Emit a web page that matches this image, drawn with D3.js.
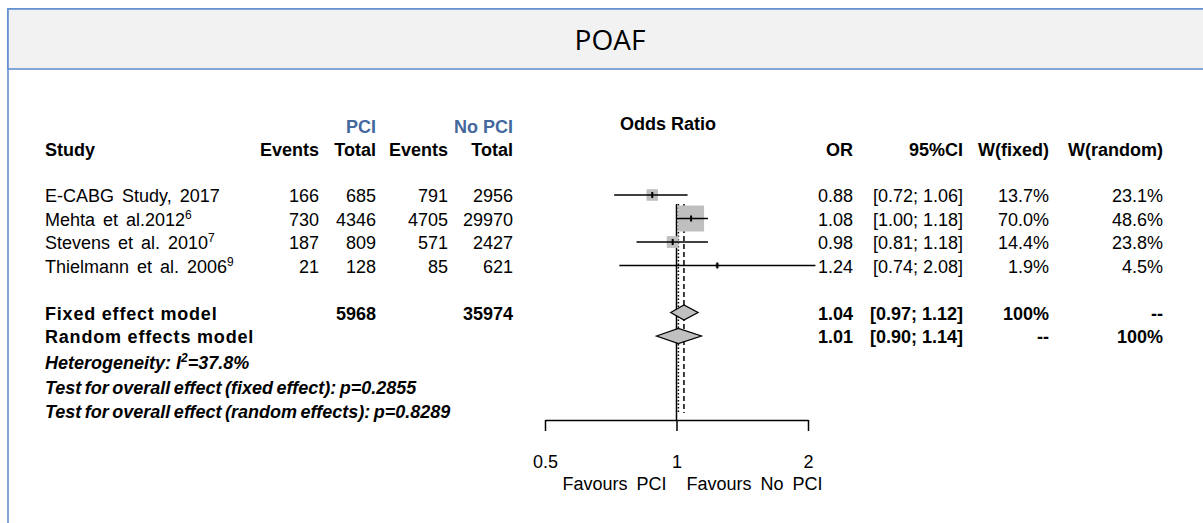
<!DOCTYPE html>
<html>
<head>
<meta charset="utf-8">
<script src="https://cdn.jsdelivr.net/npm/d3@7"></script>
<style>
    body { margin: 0; background: #fff; }
    svg text { font-family: "Liberation Sans", Arial, sans-serif; font-size: 18px; fill: #000; }
</style>
</head>
<body>
<svg id="chart" width="1203" height="523"></svg>
<script>
// forest plot of POAF, PCI vs No PCI

// study rows
const studies = ['E-CABG Study, 2017', 'Mehta et al.2012', 'Stevens et al. 2010', 'Thielmann et al. 2006'];
const refNums = ['', '6', '7', '9'];
const pciEvents = [166, 730, 187, 21];
const pciTotal = [685, 4346, 809, 128];
const noPciEvents = [791, 4705, 571, 85];
const noPciTotal = [2956, 29970, 2427, 621];
const oddsRatio = [0.88, 1.08, 0.98, 1.24];
const ciLower = [0.72, 1.00, 0.81, 0.74];
const ciUpper = [1.06, 1.18, 1.18, 2.08];
const wFixed = [13.7, 70.0, 14.4, 1.9];
const wRandom = [23.1, 48.6, 23.8, 4.5];

// pooled rows
const models = ['Fixed effect model', 'Random effects model'];
const modelPciTotal = ['5968', ''];
const modelNoPciTotal = ['35974', ''];
const modelOr = [1.04, 1.01];
const modelLower = [0.97, 0.90];
const modelUpper = [1.12, 1.14];
const modelWFixed = ['100%', '--'];
const modelWRandom = ['--', '100%'];

const xTicks = [0.5, 1, 2];
const heterogeneity = '37.8%';
const pFixed = '0.2855';
const pRandom = '0.8289';

const frameColor = '#5b8bd0';
const headBlue = '#44679e';

const svg = d3.select('#chart');
const f2 = d3.format('.2f');
const f1 = d3.format('.1f');

// frame and title band
svg.append('rect')
    .attr('x', 8).attr('y', 9)
    .attr('width', 1230).attr('height', 540)
    .attr('fill', '#fff')
    .attr('stroke', frameColor).attr('stroke-width', 1.5);
svg.append('rect')
    .attr('x', 8).attr('y', 9)
    .attr('width', 1230).attr('height', 60)
    .attr('fill', '#f2f2f2')
    .attr('stroke', frameColor).attr('stroke-width', 1.5);
svg.append('text')
    .attr('x', 610).attr('y', 50)
    .attr('text-anchor', 'middle')
    .style('font-family', '"Open Sans", sans-serif')
    .style('font-size', '28px')
    .text('POAF');

// scales
const x = d3.scaleLog().domain([0.5, 2]).range([545, 808]);
const rowY = d3.scaleLinear().domain([0, 1]).range([195, 218.5]);
const footY = d3.scaleLinear().domain([0, 1]).range([369, 393.5]);
const boxSize = d3.scaleSqrt().domain([0, 70]).range([0, 26]);
const axisY = 420;

// column anchors
const col = { study: 45, pciEv: 319, pciTot: 376, noEv: 448, noTot: 513, or: 853, ci: 963, wf: 1049, wr: 1163 };

const rows = studies.map((name, i) => ({
    name, ref: refNums[i], y: rowY(i),
    cells: [pciEvents[i], pciTotal[i], noPciEvents[i], noPciTotal[i]],
    or: oddsRatio[i], lo: ciLower[i], hi: ciUpper[i], wf: wFixed[i], wr: wRandom[i]
}));

const pooled = models.map((name, i) => ({
    name, y: rowY(5 + i),
    cells: ['', modelPciTotal[i], '', modelNoPciTotal[i]],
    or: modelOr[i], lo: modelLower[i], hi: modelUpper[i], wf: modelWFixed[i], wr: modelWRandom[i]
}));

const txt = (g, xPos, yPos, str, anchor) => g.append('text')
    .attr('x', xPos).attr('y', yPos)
    .attr('text-anchor', anchor || 'end')
    .text(str);

// headers
const head = svg.append('g').style('font-weight', 'bold');
txt(head, col.pciTot, 133, 'PCI').style('fill', headBlue);
txt(head, col.noTot, 133, 'No PCI').style('fill', headBlue);
txt(head, 668, 130, 'Odds Ratio', 'middle');
txt(head, col.study, 156, 'Study', 'start');
txt(head, col.pciEv, 156, 'Events');
txt(head, col.pciTot, 156, 'Total');
txt(head, col.noEv, 156, 'Events');
txt(head, col.noTot, 156, 'Total');
txt(head, col.or, 156, 'OR');
txt(head, col.ci, 156, '95%CI');
txt(head, col.wf, 156, 'W(fixed)');
txt(head, col.wr, 156, 'W(random)');

const cellX = [col.pciEv, col.pciTot, col.noEv, col.noTot];

// study rows text
rows.forEach(d => {
    const g = svg.append('g');
    const name = txt(g, col.study, d.y + 7, d.name, 'start')
        .style('word-spacing', '3px');
    if (d.ref) name.append('tspan')
        .attr('dy', -7).style('font-size', '12px').text(d.ref);
    d.cells.forEach((c, j) => txt(g, cellX[j], d.y + 7, c));
    txt(g, col.or, d.y + 7, f2(d.or));
    txt(g, col.ci, d.y + 7, `[${f2(d.lo)}; ${f2(d.hi)}]`);
    txt(g, col.wf, d.y + 7, f1(d.wf) + '%');
    txt(g, col.wr, d.y + 7, f1(d.wr) + '%');
});

// pooled rows text
pooled.forEach(d => {
    const g = svg.append('g').style('font-weight', 'bold');
    txt(g, col.study, d.y + 7, d.name, 'start').style('letter-spacing', '0.8px');
    d.cells.forEach((c, j) => txt(g, cellX[j], d.y + 7, c));
    txt(g, col.or, d.y + 7, f2(d.or));
    txt(g, col.ci, d.y + 7, `[${f2(d.lo)}; ${f2(d.hi)}]`);
    txt(g, col.wf, d.y + 7, d.wf);
    txt(g, col.wr, d.y + 7, d.wr);
});

// heterogeneity and tests
const foot = svg.append('g').style('font-weight', 'bold').style('font-style', 'italic');
const het = txt(foot, col.study, footY(0), 'Heterogeneity: I', 'start');
het.append('tspan').attr('dy', -7).style('font-size', '12px').text('2');
het.append('tspan').attr('dy', 7).text('=' + heterogeneity);
txt(foot, col.study, footY(1), 'Test for overall effect (fixed effect): p=' + pFixed, 'start')
    .style('word-spacing', '-1.5px');
txt(foot, col.study, footY(2), 'Test for overall effect (random effects): p=' + pRandom, 'start')
    .style('word-spacing', '-1.5px');

// reference lines: no effect, fixed (dashed), random (dotted)
const lineTop = rowY(0) + 9;
svg.append('line')
    .attr('x1', x(1)).attr('x2', x(1))
    .attr('y1', lineTop).attr('y2', axisY)
    .attr('stroke', '#000').attr('stroke-width', 1.5);
svg.append('line')
    .attr('x1', x(modelOr[0])).attr('x2', x(modelOr[0]))
    .attr('y1', lineTop).attr('y2', axisY - 7)
    .attr('stroke', '#000').attr('stroke-width', 1.5)
    .attr('stroke-dasharray', '5,3');
svg.append('line')
    .attr('x1', x(modelOr[1])).attr('x2', x(modelOr[1]))
    .attr('y1', lineTop).attr('y2', axisY - 7)
    .attr('stroke', '#000').attr('stroke-width', 1.5)
    .attr('stroke-dasharray', '1.5,2');

// study squares, CIs and point ticks
const forest = svg.append('g');
forest.selectAll('rect.box')
    .data(rows)
    .enter().append('rect')
    .attr('class', 'box')
    .attr('x', d => x(d.or) - boxSize(d.wf) / 2)
    .attr('y', d => d.y - boxSize(d.wf) / 2)
    .attr('width', d => boxSize(d.wf))
    .attr('height', d => boxSize(d.wf))
    .attr('fill', '#bfbfbf');
forest.selectAll('line.ci')
    .data(rows)
    .enter().append('line')
    .attr('class', 'ci')
    .attr('x1', d => x(d.lo)).attr('x2', d => x(d.hi))
    .attr('y1', d => d.y).attr('y2', d => d.y)
    .attr('stroke', '#000').attr('stroke-width', 1.5);
forest.selectAll('line.pt')
    .data(rows)
    .enter().append('line')
    .attr('class', 'pt')
    .attr('x1', d => x(d.or)).attr('x2', d => x(d.or))
    .attr('y1', d => d.y - 3).attr('y2', d => d.y + 3)
    .attr('stroke', '#000').attr('stroke-width', 2);

// pooled diamonds
forest.selectAll('path.diamond')
    .data(pooled)
    .enter().append('path')
    .attr('class', 'diamond')
    .attr('d', d => `M${x(d.lo)},${d.y}L${x(d.or)},${d.y - 7.5}L${x(d.hi)},${d.y}L${x(d.or)},${d.y + 7.5}Z`)
    .attr('fill', '#c0c0c0')
    .attr('stroke', '#000').attr('stroke-width', 1.3);

// x axis
const axis = svg.append('g')
    .attr('transform', `translate(0,${axisY})`)
    .call(d3.axisBottom(x).tickValues(xTicks).tickFormat(d3.format('')).tickSize(11).tickSizeOuter(0).tickPadding(24));
axis.select('.domain').attr('stroke', '#000').attr('stroke-width', 1.5);
axis.selectAll('.tick line').attr('stroke', '#000').attr('stroke-width', 1.5);
axis.selectAll('.tick text').style('font-size', '18px').style('font-family', '"Liberation Sans", Arial, sans-serif').attr('fill', '#000');

txt(svg, x(1) - 10, 490, 'Favours PCI').style('word-spacing', '4px');
txt(svg, x(1) + 10, 490, 'Favours No PCI', 'start').style('word-spacing', '4px');
</script>
</body>
</html>
